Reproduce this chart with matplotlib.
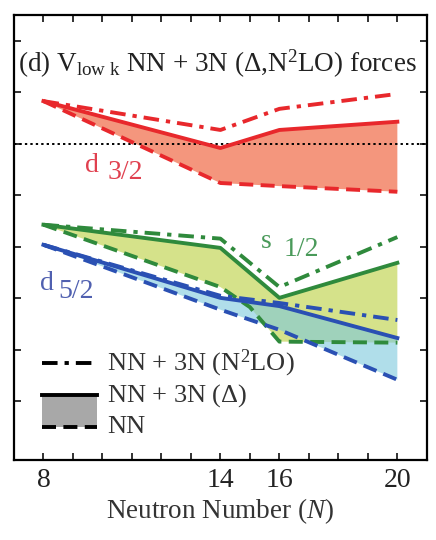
import numpy as np
import matplotlib
matplotlib.use('Agg')
import matplotlib.pyplot as plt

plt.rcParams['font.family'] = ['Liberation Serif', 'DejaVu Serif']
plt.rcParams['mathtext.fontset'] = 'custom'
plt.rcParams['mathtext.rm'] = 'Liberation Serif'
plt.rcParams['mathtext.it'] = 'Liberation Serif:italic'

# d3/2 orbital (red)
n_d32 = [8, 14, 16, 20]
d32_n2lo = [0.83, 0.27, 0.68, 0.97]
d32_delta = [0.83, -0.08, 0.27, 0.43]
d32_nn = [0.83, -0.76, -0.82, -0.93]

# s1/2 orbital (green)
n_s12 = [8, 14, 16, 20]
s12_n2lo = [-1.57, -1.84, -2.78, -1.81]
s12_delta = [-1.57, -2.02, -2.99, -2.31]
n_s12_nn = [8, 14, 15, 16, 20]
s12_nn = [-1.57, -2.78, -3.17, -3.84, -3.86]

# d5/2 orbital (blue)
n_d52 = [8, 14, 16, 20]
d52_n2lo = [-1.96, -2.95, -3.09, -3.42]
d52_delta = [-1.96, -2.99, -3.15, -3.77]
d52_nn = [-1.96, -3.22, -3.61, -4.58]

xticks = list(range(8, 21))
xtick_labels = ['8', '', '', '', '', '', '14', '', '16', '', '', '', '20']
yticks = [-5, -4, -3, -2, -1, 0, 1, 2]

red = '#e8282c'
red_fill = '#f4967d'
green = '#2f8a3c'
green_fill = '#d5e28a'
blue = '#2a50b3'
blue_fill = '#7cc8dd'

dash = (0, (3.6, 1.9))
dashdot = (0, (4.0, 1.8, 1.1, 1.8))
lw = 2.8


def band(ax, n_top, top, n_bot, bot, fc, alpha=1.0):
    xs = np.concatenate([n_top, n_bot[::-1]])
    ys = np.concatenate([top, bot[::-1]])
    ax.fill(xs, ys, color=fc, lw=0, alpha=alpha, zorder=1)


fig = plt.figure(figsize=(4.36, 5.40), dpi=100)
ax = fig.add_axes([0.032, 0.148, 0.947, 0.824])

# filled bands between NN and NN+3N(Delta)
band(ax, n_d32, d32_delta, n_d32, d32_nn, red_fill)
band(ax, n_s12, s12_delta, n_s12_nn, s12_nn, green_fill)
band(ax, n_d52, d52_delta, n_d52, d52_nn, blue_fill, alpha=0.6)

ax.axhline(0, color='black', lw=1.4, ls=(0, (1.2, 1.6)), zorder=2)

for n, y_a, y_b, n_c, y_c, col in [
        (n_d32, d32_n2lo, d32_delta, n_d32, d32_nn, red),
        (n_s12, s12_n2lo, s12_delta, n_s12_nn, s12_nn, green),
        (n_d52, d52_n2lo, d52_delta, n_d52, d52_nn, blue)]:
    ax.plot(n, y_a, color=col, lw=lw, ls=dashdot, zorder=3)
    ax.plot(n, y_b, color=col, lw=lw, ls='-', zorder=3)
    ax.plot(n_c, y_c, color=col, lw=lw, ls=dash, zorder=3)

# orbital labels
ax.text(9.42, -0.54, 'd', color='#e0404f', fontsize=20)
ax.text(10.17, -0.68, '3/2', color='#e0404f', fontsize=20)
ax.text(15.36, -2.02, 's', color='#4a9a5a', fontsize=20)
ax.text(16.14, -2.18, '1/2', color='#4a9a5a', fontsize=20)
ax.text(7.9, -2.83, 'd', color='#5060b0', fontsize=20)
ax.text(8.5, -2.99, '5/2', color='#5060b0', fontsize=20)

# title inside panel
ax.text(0.01, 0.872, r'(d) V$_{\rm low\ k}$ NN + 3N ($\Delta$,N$^2$LO) forces',
        transform=ax.transAxes, fontsize=19.5, color='#222222',
        ha='left', va='baseline')

# hand-drawn legend
lx0, lx1 = 0.068, 0.201
ax.plot([lx0, lx1], [0.218, 0.218], transform=ax.transAxes, color='black',
        lw=lw, ls=dashdot)
ax.fill_between([lx0, lx1], [0.074, 0.074], [0.146, 0.146],
                transform=ax.transAxes, color='#a8a8a8', lw=0)
ax.plot([lx0, lx1], [0.146, 0.146], transform=ax.transAxes, color='black',
        lw=lw)
ax.plot([lx0, lx1], [0.074, 0.074], transform=ax.transAxes, color='black',
        lw=lw, ls=dash)
ax.text(0.225, 0.218, r'NN + 3N (N$^2$LO)', transform=ax.transAxes,
        fontsize=19, va='center', color='#333333')
ax.text(0.225, 0.146, r'NN + 3N ($\Delta$)', transform=ax.transAxes,
        fontsize=19, va='center', color='#333333')
ax.text(0.225, 0.074, 'NN', transform=ax.transAxes,
        fontsize=19, va='center', color='#333333')

ax.set_xlim(7.0, 21.0)
ax.set_ylim(-6.14, 2.5)
ax.set_xticks(xticks)
ax.set_xticklabels(xtick_labels)
ax.set_yticks(yticks)
ax.set_yticklabels([])
ax.tick_params(direction='in', length=5, width=1.3, top=True, right=True,
               labelsize=20, pad=6, colors='#222222')
for s in ax.spines.values():
    s.set_linewidth(1.6)
ax.set_xlabel(r'Neutron Number ($N$)', fontsize=19.5, labelpad=2, color='#333333')

fig.savefig('out.png', dpi=100)
